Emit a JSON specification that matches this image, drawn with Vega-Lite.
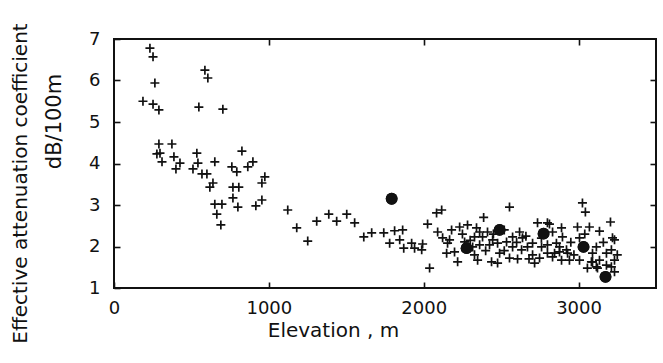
{
  "$schema": "https://vega.github.io/schema/vega-lite/v6.json",
  "width": 542,
  "height": 249,
  "autosize": "none",
  "padding": {"left": 114, "top": 39, "right": 7, "bottom": 75},
  "background": "white",
  "config": {
    "view": {"stroke": "#111", "strokeWidth": 2},
    "font": "DejaVu Sans",
    "axis": {"domain": false, "grid": false, "labelFont": "DejaVu Sans", "titleFont": "DejaVu Sans", "labelColor": "#111", "titleColor": "#111", "tickColor": "#111", "titleFontWeight": "normal", "tickWidth": 1.6}
  },
  "data": {"values": [
    {"elev": 232, "att": 6.78, "kind": "cross"},
    {"elev": 252, "att": 6.57, "kind": "cross"},
    {"elev": 264, "att": 5.94, "kind": "cross"},
    {"elev": 187, "att": 5.50, "kind": "cross"},
    {"elev": 252, "att": 5.43, "kind": "cross"},
    {"elev": 290, "att": 5.29, "kind": "cross"},
    {"elev": 587, "att": 6.25, "kind": "cross"},
    {"elev": 606, "att": 6.06, "kind": "cross"},
    {"elev": 548, "att": 5.36, "kind": "cross"},
    {"elev": 703, "att": 5.31, "kind": "cross"},
    {"elev": 290, "att": 4.47, "kind": "cross"},
    {"elev": 374, "att": 4.47, "kind": "cross"},
    {"elev": 297, "att": 4.25, "kind": "cross"},
    {"elev": 277, "att": 4.23, "kind": "cross"},
    {"elev": 387, "att": 4.16, "kind": "cross"},
    {"elev": 310, "att": 4.04, "kind": "cross"},
    {"elev": 426, "att": 4.01, "kind": "cross"},
    {"elev": 400, "att": 3.87, "kind": "cross"},
    {"elev": 535, "att": 4.25, "kind": "cross"},
    {"elev": 542, "att": 4.01, "kind": "cross"},
    {"elev": 510, "att": 3.87, "kind": "cross"},
    {"elev": 568, "att": 3.75, "kind": "cross"},
    {"elev": 600, "att": 3.75, "kind": "cross"},
    {"elev": 651, "att": 4.04, "kind": "cross"},
    {"elev": 826, "att": 4.30, "kind": "cross"},
    {"elev": 761, "att": 3.92, "kind": "cross"},
    {"elev": 793, "att": 3.80, "kind": "cross"},
    {"elev": 897, "att": 4.04, "kind": "cross"},
    {"elev": 864, "att": 3.92, "kind": "cross"},
    {"elev": 639, "att": 3.53, "kind": "cross"},
    {"elev": 619, "att": 3.43, "kind": "cross"},
    {"elev": 768, "att": 3.43, "kind": "cross"},
    {"elev": 806, "att": 3.43, "kind": "cross"},
    {"elev": 974, "att": 3.68, "kind": "cross"},
    {"elev": 955, "att": 3.53, "kind": "cross"},
    {"elev": 768, "att": 3.17, "kind": "cross"},
    {"elev": 800, "att": 2.95, "kind": "cross"},
    {"elev": 651, "att": 3.02, "kind": "cross"},
    {"elev": 697, "att": 3.02, "kind": "cross"},
    {"elev": 664, "att": 2.78, "kind": "cross"},
    {"elev": 690, "att": 2.52, "kind": "cross"},
    {"elev": 916, "att": 2.98, "kind": "cross"},
    {"elev": 955, "att": 3.12, "kind": "cross"},
    {"elev": 1122, "att": 2.88, "kind": "cross"},
    {"elev": 1180, "att": 2.45, "kind": "cross"},
    {"elev": 1251, "att": 2.13, "kind": "cross"},
    {"elev": 1309, "att": 2.61, "kind": "cross"},
    {"elev": 1387, "att": 2.78, "kind": "cross"},
    {"elev": 1438, "att": 2.61, "kind": "cross"},
    {"elev": 1503, "att": 2.78, "kind": "cross"},
    {"elev": 1554, "att": 2.57, "kind": "cross"},
    {"elev": 1613, "att": 2.23, "kind": "cross"},
    {"elev": 1664, "att": 2.33, "kind": "cross"},
    {"elev": 1742, "att": 2.33, "kind": "cross"},
    {"elev": 1812, "att": 2.38, "kind": "cross"},
    {"elev": 1780, "att": 2.08, "kind": "cross"},
    {"elev": 1864, "att": 2.40, "kind": "cross"},
    {"elev": 1845, "att": 2.16, "kind": "cross"},
    {"elev": 1871, "att": 1.96, "kind": "cross"},
    {"elev": 1922, "att": 2.08, "kind": "cross"},
    {"elev": 1941, "att": 1.96, "kind": "cross"},
    {"elev": 1993, "att": 2.06, "kind": "cross"},
    {"elev": 1987, "att": 1.92, "kind": "cross"},
    {"elev": 2025, "att": 2.54, "kind": "cross"},
    {"elev": 2083, "att": 2.81, "kind": "cross"},
    {"elev": 2116, "att": 2.88, "kind": "cross"},
    {"elev": 2090, "att": 2.35, "kind": "cross"},
    {"elev": 2038, "att": 1.48, "kind": "cross"},
    {"elev": 2122, "att": 2.21, "kind": "cross"},
    {"elev": 2154, "att": 2.08, "kind": "cross"},
    {"elev": 2180, "att": 2.40, "kind": "cross"},
    {"elev": 2232, "att": 2.47, "kind": "cross"},
    {"elev": 2283, "att": 2.52, "kind": "cross"},
    {"elev": 2341, "att": 2.45, "kind": "cross"},
    {"elev": 2148, "att": 1.84, "kind": "cross"},
    {"elev": 2199, "att": 1.87, "kind": "cross"},
    {"elev": 2219, "att": 1.63, "kind": "cross"},
    {"elev": 2264, "att": 2.11, "kind": "cross"},
    {"elev": 2316, "att": 1.99, "kind": "cross"},
    {"elev": 2328, "att": 1.80, "kind": "cross"},
    {"elev": 2554, "att": 2.95, "kind": "cross"},
    {"elev": 2387, "att": 2.70, "kind": "cross"},
    {"elev": 2361, "att": 2.35, "kind": "cross"},
    {"elev": 2412, "att": 2.35, "kind": "cross"},
    {"elev": 2328, "att": 2.23, "kind": "cross"},
    {"elev": 2380, "att": 2.23, "kind": "cross"},
    {"elev": 2445, "att": 2.16, "kind": "cross"},
    {"elev": 2361, "att": 2.04, "kind": "cross"},
    {"elev": 2425, "att": 2.04, "kind": "cross"},
    {"elev": 2477, "att": 2.08, "kind": "cross"},
    {"elev": 2535, "att": 2.11, "kind": "cross"},
    {"elev": 2574, "att": 2.23, "kind": "cross"},
    {"elev": 2619, "att": 2.35, "kind": "cross"},
    {"elev": 2638, "att": 2.21, "kind": "cross"},
    {"elev": 2574, "att": 1.99, "kind": "cross"},
    {"elev": 2632, "att": 1.92, "kind": "cross"},
    {"elev": 2670, "att": 1.99, "kind": "cross"},
    {"elev": 2703, "att": 2.08, "kind": "cross"},
    {"elev": 2735, "att": 2.57, "kind": "cross"},
    {"elev": 2799, "att": 2.57, "kind": "cross"},
    {"elev": 2832, "att": 2.35, "kind": "cross"},
    {"elev": 2857, "att": 2.08, "kind": "cross"},
    {"elev": 2799, "att": 2.04, "kind": "cross"},
    {"elev": 2761, "att": 1.99, "kind": "cross"},
    {"elev": 2703, "att": 1.80, "kind": "cross"},
    {"elev": 2716, "att": 1.60, "kind": "cross"},
    {"elev": 2748, "att": 1.72, "kind": "cross"},
    {"elev": 2799, "att": 1.84, "kind": "cross"},
    {"elev": 2845, "att": 1.84, "kind": "cross"},
    {"elev": 2606, "att": 1.70, "kind": "cross"},
    {"elev": 2554, "att": 1.72, "kind": "cross"},
    {"elev": 2477, "att": 1.60, "kind": "cross"},
    {"elev": 2438, "att": 1.63, "kind": "cross"},
    {"elev": 2348, "att": 1.67, "kind": "cross"},
    {"elev": 2490, "att": 1.84, "kind": "cross"},
    {"elev": 3025, "att": 3.05, "kind": "cross"},
    {"elev": 3044, "att": 2.83, "kind": "cross"},
    {"elev": 3206, "att": 2.59, "kind": "cross"},
    {"elev": 2812, "att": 2.54, "kind": "cross"},
    {"elev": 2890, "att": 2.45, "kind": "cross"},
    {"elev": 2993, "att": 2.47, "kind": "cross"},
    {"elev": 3070, "att": 2.47, "kind": "cross"},
    {"elev": 3135, "att": 2.37, "kind": "cross"},
    {"elev": 3219, "att": 2.21, "kind": "cross"},
    {"elev": 3006, "att": 2.21, "kind": "cross"},
    {"elev": 3115, "att": 1.99, "kind": "cross"},
    {"elev": 3212, "att": 1.92, "kind": "cross"},
    {"elev": 3180, "att": 1.84, "kind": "cross"},
    {"elev": 3232, "att": 1.67, "kind": "cross"},
    {"elev": 3135, "att": 1.67, "kind": "cross"},
    {"elev": 3115, "att": 1.51, "kind": "cross"},
    {"elev": 3212, "att": 1.51, "kind": "cross"},
    {"elev": 3232, "att": 1.39, "kind": "cross"},
    {"elev": 3083, "att": 1.63, "kind": "cross"},
    {"elev": 3006, "att": 1.67, "kind": "cross"},
    {"elev": 2922, "att": 1.92, "kind": "cross"},
    {"elev": 2877, "att": 1.99, "kind": "cross"},
    {"elev": 2832, "att": 1.75, "kind": "cross"},
    {"elev": 2890, "att": 1.67, "kind": "cross"},
    {"elev": 2167, "att": 2.16, "kind": "cross"},
    {"elev": 2896, "att": 2.23, "kind": "cross"},
    {"elev": 2877, "att": 1.87, "kind": "cross"},
    {"elev": 2929, "att": 1.84, "kind": "cross"},
    {"elev": 2941, "att": 1.67, "kind": "cross"},
    {"elev": 3090, "att": 1.84, "kind": "cross"},
    {"elev": 3090, "att": 1.63, "kind": "cross"},
    {"elev": 3057, "att": 1.48, "kind": "cross"},
    {"elev": 3122, "att": 1.48, "kind": "cross"},
    {"elev": 3232, "att": 2.16, "kind": "cross"},
    {"elev": 2250, "att": 2.30, "kind": "cross"},
    {"elev": 2300, "att": 2.15, "kind": "cross"},
    {"elev": 2400, "att": 1.90, "kind": "cross"},
    {"elev": 2450, "att": 2.30, "kind": "cross"},
    {"elev": 2520, "att": 2.40, "kind": "cross"},
    {"elev": 2600, "att": 2.10, "kind": "cross"},
    {"elev": 2660, "att": 2.25, "kind": "cross"},
    {"elev": 2760, "att": 2.20, "kind": "cross"},
    {"elev": 2950, "att": 2.10, "kind": "cross"},
    {"elev": 2970, "att": 1.80, "kind": "cross"},
    {"elev": 3040, "att": 2.30, "kind": "cross"},
    {"elev": 3160, "att": 2.10, "kind": "cross"},
    {"elev": 3180, "att": 1.55, "kind": "cross"},
    {"elev": 3250, "att": 1.80, "kind": "cross"},
    {"elev": 2520, "att": 1.90, "kind": "cross"},
    {"elev": 2680, "att": 1.70, "kind": "cross"},
    {"elev": 1793, "att": 3.15, "kind": "mean"},
    {"elev": 2277, "att": 1.96, "kind": "mean"},
    {"elev": 2490, "att": 2.40, "kind": "mean"},
    {"elev": 2774, "att": 2.31, "kind": "mean"},
    {"elev": 3032, "att": 1.99, "kind": "mean"},
    {"elev": 3174, "att": 1.27, "kind": "mean"}
  ]},
  "layer": [
    {
      "transform": [{"filter": "datum.kind === 'cross'"}],
      "mark": {"type": "point", "shape": "M-1,0L1,0M0,-1L0,1", "filled": false, "stroke": "#111", "strokeWidth": 1.7, "size": 81, "opacity": 1},
      "encoding": {
        "x": {"field": "elev", "type": "quantitative", "scale": {"domain": [0, 3500], "nice": false, "zero": false},
              "axis": {"orient": "bottom", "values": [0, 1000, 2000, 3000], "format": "d", "offset": -6, "tickSize": 6, "labelPadding": 11, "labelFontSize": 18, "title": "Elevation , m", "titleFontSize": 20, "titlePadding": 3, "titleX": 219, "titleAlign": "center", "labelFlush": false}},
        "y": {"field": "att", "type": "quantitative", "scale": {"domain": [1, 7], "nice": false, "zero": false},
              "axis": {"orient": "left", "values": [1, 2, 3, 4, 5, 6, 7], "offset": -6, "tickSize": 6, "labelPadding": 14, "labelFontSize": 18, "title": "dB/100m", "titleFontSize": 21, "titlePadding": 24, "titleY": 82, "titleAlign": "center"}}
      }
    },
    {
      "transform": [{"filter": "datum.kind === 'mean'"}],
      "mark": {"type": "point", "shape": "circle", "filled": true, "color": "#111", "size": 140, "opacity": 1},
      "encoding": {
        "x": {"field": "elev", "type": "quantitative", "axis": {"orient": "top", "values": [1000, 2000, 3000], "offset": -6, "tickSize": 6, "labels": false, "title": null}},
        "y": {"field": "att", "type": "quantitative", "axis": {"orient": "right", "values": [2, 3, 4, 5, 6], "offset": -6, "tickSize": 6, "labels": false, "title": null}}
      }
    },
    {
      "transform": [{"filter": "datum.kind === 'mean'"}],
      "mark": {"type": "point", "shape": "circle", "filled": true, "color": "#111", "size": 140, "opacity": 1},
      "encoding": {
        "x": {"field": "elev", "type": "quantitative", "axis": null},
        "y": {"field": "att", "type": "quantitative", "axis": {"orient": "left", "labels": false, "ticks": false, "title": "Effective   attenuation coefficient", "titleFontSize": 20, "titlePadding": 84, "titleY": 144, "titleAlign": "center"}}
      }
    }
  ],
  "resolve": {"axis": {"x": "independent", "y": "independent"}}
}
